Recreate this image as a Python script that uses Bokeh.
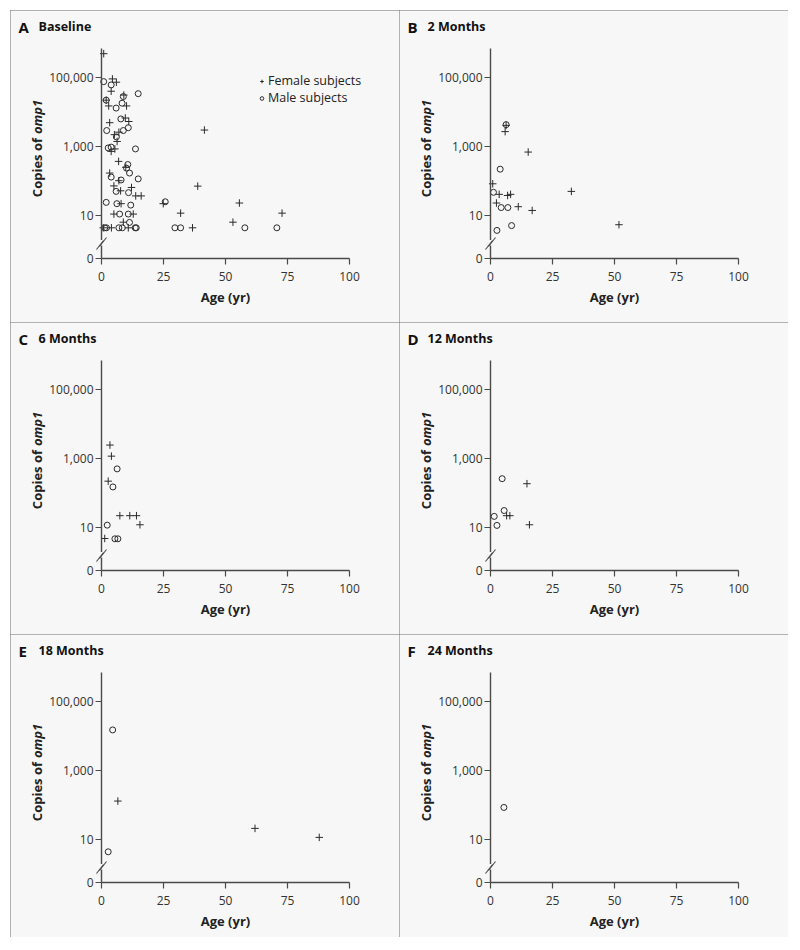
from bokeh.plotting import figure
from bokeh.models import (Range1d, FixedTicker, CustomJSTickFormatter, Label,
                          Legend, LegendItem)
from bokeh.layouts import gridplot
from bokeh.embed import file_html
from bokeh.resources import INLINE

# ---------------- data (age in years, copies of omp1) ----------------
# Panel A: Baseline
a_female_age = [0.9, 4.4, 6.0, 3.9, 1.9, 2.9, 10.1, 9.0, 9.6, 11.0, 3.3, 5.2, 7.0, 6.3,
                5.4, 3.9, 6.9, 9.8, 3.3, 7.0, 5.0, 7.7, 12.1, 13.8, 16.0, 7.9, 24.9,
                5.0, 12.8, 8.8, 0.7, 4.0, 10.8, 41.5, 38.8, 31.9, 55.6, 72.8, 53.0, 36.7]
a_female_copies = [490000, 91000, 73000, 40000, 22000, 15000, 15000, 31000, 6700, 5300,
                   4900, 2200, 2600, 1400, 850, 720, 370, 250, 170, 102, 72, 52, 65, 37,
                   37, 22, 22, 11, 11, 6.4, 4.4, 4.4, 4.4, 3000, 71, 11.7, 23, 11.7, 6.4, 4.4]
a_male_age = [0.9, 3.9, 1.9, 5.9, 8.8, 8.3, 14.8, 7.8, 2.1, 8.8, 10.8, 6.0, 2.7, 3.9, 13.7,
              10.1, 10.6, 11.3, 3.9, 7.9, 14.8, 5.9, 10.9, 1.9, 6.2, 11.8, 25.7, 7.3, 10.8,
              11.3, 1.3, 2.0, 7.0, 8.4, 13.6, 14.0, 29.6, 31.9, 57.8, 70.7]
a_male_copies = [76000, 61000, 22000, 13000, 28000, 18000, 34000, 6300, 2900, 2900, 3500,
                 1900, 910, 960, 850, 235, 300, 170, 130, 107, 115, 50, 46, 24, 22, 20, 25,
                 11, 11, 6.3, 4.4, 4.4, 4.4, 4.4, 4.4, 4.4, 4.4, 4.4, 4.4, 4.4]

# Panel B: 2 months
b_female_age = [6.3, 5.9, 15.2, 0.9, 3.5, 6.9, 8.1, 2.4, 11.2, 16.8, 32.6, 51.8]
b_female_copies = [4100, 2700, 690, 83, 41, 38, 41, 23, 18, 14, 50, 5.4]
b_male_age = [6.3, 3.9, 1.2, 4.3, 7.0, 8.5, 2.6]
b_male_copies = [4300, 220, 47, 17, 17, 5.1, 3.7]

# Panel C: 6 months
c_female_age = [3.4, 4.0, 2.7, 7.4, 11.4, 14.1, 15.5, 1.3]
c_female_copies = [2450, 1170, 220, 22, 22, 22, 12, 4.8]
c_male_age = [6.3, 4.6, 2.3, 5.4, 6.6]
c_male_copies = [500, 150, 11.7, 4.7, 4.7]

# Panel D: 12 months
d_female_age = [14.7, 6.5, 7.8, 15.7]
d_female_copies = [186, 22, 22, 12]
d_male_age = [4.7, 5.5, 1.5, 2.6]
d_male_copies = [260, 31, 21, 11.5]

# Panel E: 18 months
e_female_age = [6.6, 61.9, 87.8]
e_female_copies = [130, 21, 11.5]
e_male_age = [4.5, 2.7]
e_male_copies = [15000, 4.4]

# Panel F: 24 months
f_female_age = []
f_female_copies = []
f_male_age = [5.4]
f_male_copies = [85]

x_ticks = [0, 25, 50, 75, 100]
y_tick_values = [10, 1000, 100000]

# ---------------- styling ----------------
BG = "#f7f7f7"
INK = "#2a2a2a"
AXIS = "#4a4a4a"
FONT = "Open Sans"

PANEL_W = 389
AX_X = 91            # panel pixel of age 0
PX_YR = 2.48
AX_Y = 248           # panel pixel (from top) of the "0" level
PX_DEC = 34.5
LOG_BOT = -0.2464    # log10 value drawn as "0"
LOG_TOP = 5.841      # top of y axis line
Y0 = 10 ** LOG_BOT

fmt = CustomJSTickFormatter(code=r"""
if (tick < 1) { return "0"; }
return Math.round(tick).toString().replace(/\B(?=(\d{3})+(?!\d))/g, ",");
""")


def make_panel(letter, title, fa, fc, ma, mc, height, legend=False):
    x0 = -AX_X / PX_YR
    x1 = (PANEL_W - AX_X) / PX_YR
    lo = LOG_BOT - (height - AX_Y) / PX_DEC
    hi = LOG_BOT + AX_Y / PX_DEC
    p = figure(width=PANEL_W, height=height, y_axis_type="log", title=None,
               x_range=Range1d(x0, x1), y_range=Range1d(10 ** lo, 10 ** hi),
               output_backend="svg", toolbar_location=None, min_border=0,
               background_fill_color=BG, border_fill_color=BG,
               outline_line_color=None)
    p.styles = {"outline": "1px solid #6c6c6c", "outline-offset": "-1px"}
    p.xgrid.visible = False
    p.ygrid.visible = False

    for ax in (p.xaxis[0], p.yaxis[0]):
        ax.axis_line_color = AXIS
        ax.axis_line_width = 1.4
        ax.major_tick_line_color = AXIS
        ax.major_tick_line_width = 1.2
        ax.major_tick_out = 6
        ax.major_tick_in = 0
        ax.minor_tick_line_color = None
        ax.major_label_text_font = FONT
        ax.major_label_text_font_size = "12px"
        ax.major_label_text_color = "#333333"

    xa = p.xaxis[0]
    xa.ticker = FixedTicker(ticks=x_ticks)
    xa.bounds = (0, 100)
    xa.fixed_location = Y0
    xa.major_label_standoff = 7
    xa.axis_label = "Age (yr)"
    xa.axis_label_text_font = FONT
    xa.axis_label_text_font_size = "13px"
    xa.axis_label_text_font_style = "bold"
    xa.axis_label_text_color = "#222222"
    xa.axis_label_standoff = 4

    ya = p.yaxis[0]
    ya.ticker = FixedTicker(ticks=[Y0] + y_tick_values)
    ya.formatter = fmt
    ya.bounds = (Y0, 10 ** LOG_TOP)
    ya.fixed_location = 0
    ya.major_label_standoff = 2

    rf = p.scatter(fa, fc, marker="cross", size=7.5, line_color=INK, line_width=1)
    rm = p.scatter(ma, mc, marker="circle", size=6, fill_color=None,
                   line_color=INK, line_width=1)

    # axis break marks
    def yv(d):
        return 10 ** (LOG_BOT + d / PX_DEC)

    p.segment(x0=[0], y0=[yv(13)], x1=[0], y1=[yv(18.5)], line_color=BG,
              line_width=5, level="overlay")
    p.segment(x0=[-5 / PX_YR, -2 / PX_YR], y0=[yv(9), yv(12)],
              x1=[2 / PX_YR, 5 / PX_YR], y1=[yv(18), yv(21)],
              line_color=AXIS, line_width=1.1, level="overlay")

    # y-axis label with italic gene name (screen px from frame bottom-left)
    jy = height - 127.5
    p.add_layout(Label(x=26, y=jy, x_units="screen", y_units="screen",
                       text="Copies of", angle=90, angle_units="deg",
                       text_align="right", text_baseline="middle",
                       text_font=FONT, text_font_size="13px", text_font_style="bold",
                       text_color="#222222"))
    p.add_layout(Label(x=26, y=jy + 4, x_units="screen", y_units="screen",
                       text="omp1", angle=90, angle_units="deg",
                       text_align="left", text_baseline="middle",
                       text_font=FONT, text_font_size="13px",
                       text_font_style="bold italic", text_color="#222222"))

    # panel title
    p.add_layout(Label(x=8, y=height - 16, x_units="screen",
                       y_units="screen", text=letter, text_font=FONT,
                       text_font_size="15px", text_font_style="bold",
                       text_color="#111111", text_baseline="alphabetic"))
    p.add_layout(Label(x=28, y=height - 16, x_units="screen",
                       y_units="screen", text=title, text_font=FONT,
                       text_font_size="12.5px", text_font_style="bold",
                       text_color="#111111", text_baseline="alphabetic"))

    if legend:
        lg = Legend(items=[LegendItem(label="Female subjects", renderers=[rf]),
                           LegendItem(label="Male subjects", renderers=[rm])],
                    location=(247, height - 96), glyph_width=9, glyph_height=14,
                    label_height=14, label_standoff=2, spacing=-3, padding=0,
                    margin=0, background_fill_alpha=0, border_line_color=None,
                    label_text_font=FONT, label_text_font_size="12.5px",
                    label_text_line_height=1.0,
                    label_text_color="#222222")
        p.add_layout(lg)
    return p


pA = make_panel("A", "Baseline", a_female_age, a_female_copies, a_male_age, a_male_copies, 312, legend=True)
pB = make_panel("B", "2 Months", b_female_age, b_female_copies, b_male_age, b_male_copies, 312)
pC = make_panel("C", "6 Months", c_female_age, c_female_copies, c_male_age, c_male_copies, 312)
pD = make_panel("D", "12 Months", d_female_age, d_female_copies, d_male_age, d_male_copies, 312)
pE = make_panel("E", "18 Months", e_female_age, e_female_copies, e_male_age, e_male_copies, 303)
pF = make_panel("F", "24 Months", f_female_age, f_female_copies, f_male_age, f_male_copies, 303)

grid = gridplot([[pA, pB], [pC, pD], [pE, pF]], toolbar_location=None)
grid.margin = (10, 0, 0, 10)

open("out.html", "w").write(file_html(grid, INLINE))
